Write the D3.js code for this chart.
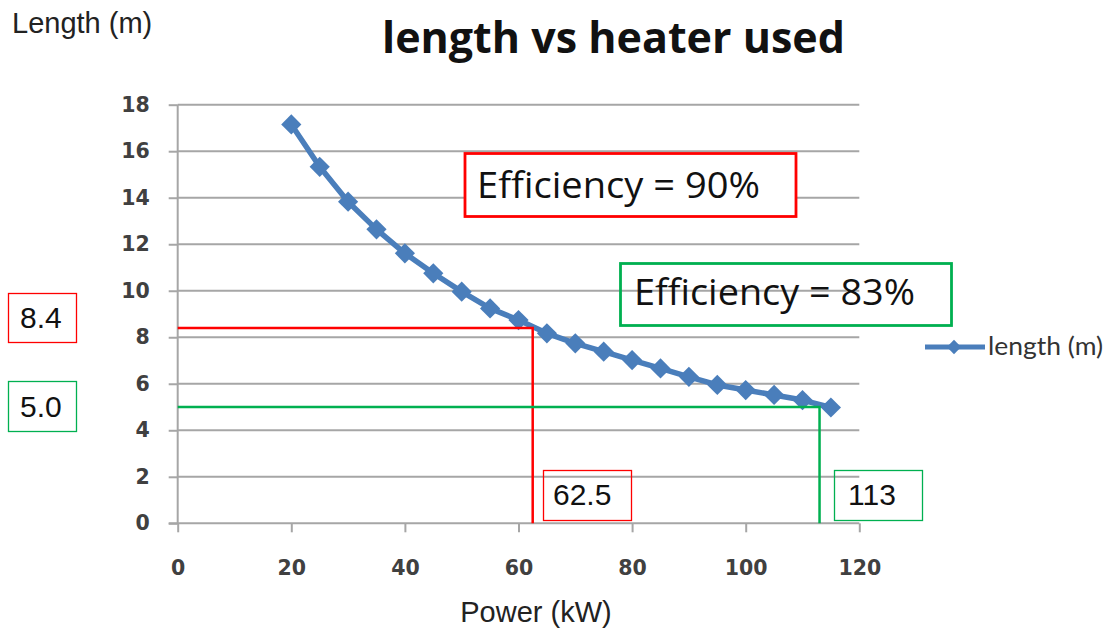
<!DOCTYPE html>
<html><head><meta charset="utf-8">
<script src="https://cdn.jsdelivr.net/npm/d3@7"></script>
<style>body{margin:0;background:#fff}svg{display:block}</style>
</head><body>
<svg id="c" width="1110" height="631"></svg>
<script>
const power = [20,25,30,35,40,45,50,55,60,65,70,75,80,85,90,95,100,105,110,115];
const lengthM = [17.15,15.33,13.83,12.64,11.61,10.75,9.96,9.24,8.74,8.17,7.74,7.38,7.02,6.66,6.30,5.95,5.73,5.52,5.30,4.98];
const yTicks = [0,2,4,6,8,10,12,14,16,18];
const xTicks = [0,20,40,60,80,100,120];
const markers = [
  {p:62.5, l:8.4, color:"#ff0000", pLabel:"62.5", lLabel:"8.4", eff:"Efficiency = 90%"},
  {p:113, l:5.0, color:"#00b050", pLabel:"113", lLabel:"5.0", eff:"Efficiency = 83%"}
];

const svg = d3.select("#c");
const x = d3.scaleLinear().domain([0,120]).range([177.7,859.3]);
const y = d3.scaleLinear().domain([0,18]).range([523.3,104.7]);
const grid = "#a6a6a6";
const arial = "Liberation Sans, Arial";
const tickFont = "DejaVu Sans";

// gridlines
svg.append("g").selectAll("line").data(yTicks.filter(d=>d>0)).join("line")
  .attr("x1",x(0)).attr("x2",x(120)).attr("y1",d=>y(d)).attr("y2",d=>y(d))
  .attr("stroke",grid).attr("stroke-width",2);

function rectBox(x0,y0,w,h,color,sw,fill){
  svg.append("rect").attr("x",x0).attr("y",y0).attr("width",w).attr("height",h)
    .attr("fill",fill).attr("stroke",color).attr("stroke-width",sw);
}
function label(tx,ty,txt,fs,fam,len){
  const t = svg.append("text").attr("x",tx).attr("y",ty).text(txt)
    .attr("font-family",fam).attr("font-size",fs).attr("fill","#111");
  if(len) t.attr("textLength",len).attr("lengthAdjust","spacingAndGlyphs");
}

// y axis
const ya = svg.append("g").attr("transform",`translate(${x(0)},0)`)
  .call(d3.axisLeft(y).tickValues(yTicks).tickSize(9).tickPadding(19));
ya.select(".domain").attr("stroke",grid).attr("stroke-width",2).attr("d",`M0,${y(18)}V${y(0)}`);
ya.selectAll(".tick line").attr("stroke",grid).attr("stroke-width",2);
ya.selectAll("text").attr("font-family",tickFont).attr("font-weight","bold").attr("font-size",20.5).attr("fill","#404040");

// x axis
const xa = svg.append("g").attr("transform",`translate(0,${y(0)})`)
  .call(d3.axisBottom(x).tickValues(xTicks).tickSize(9).tickPadding(28));
xa.select(".domain").attr("stroke",grid).attr("stroke-width",2).attr("d",`M${x(0)-9},0H${x(120)}`);
xa.selectAll(".tick line").attr("stroke",grid).attr("stroke-width",2);
xa.selectAll("text").attr("font-family",tickFont).attr("font-weight","bold").attr("font-size",20.5).attr("fill","#404040");

// efficiency 90% box (white fill)
rectBox(465,153.5,331,63,markers[0].color,2.8,"#fff");
label(477,198,markers[0].eff,37,"Open Sans",283);

// series
const blue = "#4a7ebb";
svg.append("path").datum(power.map((p,i)=>[p,lengthM[i]]))
  .attr("d",d3.line().x(d=>x(d[0])).y(d=>y(d[1])))
  .attr("fill","none").attr("stroke",blue).attr("stroke-width",5.5).attr("stroke-linejoin","round");
const dia = d3.symbol().type(d3.symbolDiamond2).size(260);
svg.append("g").selectAll("path").data(power.map((p,i)=>[p,lengthM[i]])).join("path")
  .attr("transform",d=>`translate(${x(d[0])},${y(d[1])})`).attr("d",dia).attr("fill",blue);

// marker lines
markers.forEach(m=>{
  svg.append("path").attr("d",`M${x(0)},${y(m.l)}H${x(m.p)}V${y(0)}`)
    .attr("fill","none").attr("stroke",m.color).attr("stroke-width",2.5);
});

// transparent label boxes
rectBox(620.5,263.5,331,62,markers[1].color,2.8,"none");
label(634,305,markers[1].eff,37,"Open Sans",281);
rectBox(8.5,293.5,68,49,markers[0].color,1.3,"none");
label(20,328,markers[0].lLabel,30,arial);
rectBox(8.5,381.5,68,50,markers[1].color,1.3,"none");
label(20,417,markers[1].lLabel,30,arial);
rectBox(543.5,470.5,88,50,markers[0].color,1.3,"none");
label(553,505,markers[0].pLabel,30,arial);
rectBox(834.5,470.5,88,50,markers[1].color,1.3,"none");
label(848,505,markers[1].pLabel,30,arial);

// titles
svg.append("text").attr("x",613.5).attr("y",53).attr("text-anchor","middle")
  .attr("font-family","Open Sans").attr("font-weight","bold").attr("font-size",43).attr("fill","#111")
  .attr("textLength",463).attr("lengthAdjust","spacingAndGlyphs")
  .text("length vs heater used");
svg.append("text").attr("x",12).attr("y",33).attr("font-family",arial).attr("font-size",29).attr("fill","#222").text("Length (m)");
svg.append("text").attr("x",536).attr("y",622).attr("text-anchor","middle").attr("font-family",arial).attr("font-size",29).attr("fill","#222").text("Power (kW)");

// legend
const lg = svg.append("g");
lg.append("line").attr("x1",925).attr("x2",985).attr("y1",347).attr("y2",347).attr("stroke",blue).attr("stroke-width",5);
lg.append("path").attr("transform","translate(954,347)").attr("d",d3.symbol().type(d3.symbolDiamond2).size(130)).attr("fill",blue);
lg.append("text").attr("x",988).attr("y",355).attr("font-family","Lato").attr("font-size",25).attr("fill","#333")
  .attr("textLength",115).attr("lengthAdjust","spacingAndGlyphs").text("length (m)");
</script>
</body></html>
